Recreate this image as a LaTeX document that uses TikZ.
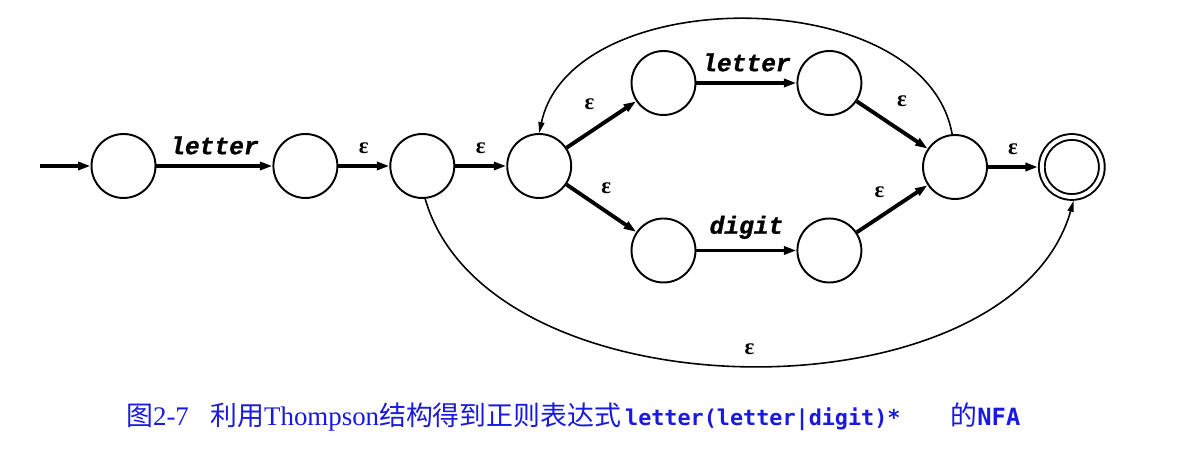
\documentclass[tikz,border=0pt]{standalone}
\usepackage{amsmath,bm}
\usepackage{fontspec}
\setmainfont{Liberation Serif}
\newfontfamily\cjk{Noto Sans CJK SC}
\newfontfamily\lblfont{Liberation Mono}[FakeBold=1.2]
\newfontfamily\codefont{DejaVu Sans Mono}
\usepackage{tikz}
\usetikzlibrary{arrows.meta,positioning}
\definecolor{capblue}{RGB}{25,25,225}
\newcommand{\eps}{\textbf{ε}}

\begin{document}
\begin{tikzpicture}[x=0.02cm,y=0.02cm,>={Triangle[length=2.5mm,width=1.6mm]},
state/.style={draw,circle,line width=1.1pt,minimum size=1.28cm,inner sep=0pt},
final/.style={state,double,double distance=2.2pt,minimum size=1.2cm,outer sep=2.2pt},
arr/.style={->,line width=2.2pt},
thinarr/.style={-{Triangle[length=2.2mm,width=1.2mm]},line width=0.9pt},
lbl/.style={font=\lblfont\bfseries\itshape\fontsize{14}{14}\selectfont,inner sep=0pt},
epslbl/.style={font=\fontsize{13}{13}\selectfont,inner sep=0pt}]
\useasboundingbox (0,0) rectangle (1197,463);

\node[state] (q0) at (123.5,297) {};
\node[state,right=2.32cm of q0] (q1) {};
\node[state,right=1.02cm of q1] (q2) {};
\node[state,right=1.02cm of q2] (q3) {};
\node[state] (q4) at (663.5,380) {};
\node[state,right=2cm of q4] (q5) {};
\node[state] (q6) at (663.5,212.5) {};
\node[state,right=2cm of q6] (q7) {};
\node[state] (q8) at (955,296) {};
\node[final,right=1cm of q8] (q9) {};
\coordinate (init) at (40,297);

\draw[arr] (init) -- (q0);
\draw[arr] (q0) -- node[lbl,above=5.5pt] {letter} (q1);
\draw[arr] (q1) -- node[epslbl,above=6pt] {\eps} (q2);
\draw[arr] (q2) -- node[epslbl,above=6pt] {\eps} (q3);
\draw[arr] (q3) -- node[epslbl,above left=0.25cm and 0.1cm] {\eps} (q4);
\draw[arr] (q3) -- node[epslbl,above=0.25cm,xshift=0.1cm] {\eps} (q6);
\draw[arr] (q4) -- node[lbl,above=5.5pt] {letter} (q5);
\draw[arr] (q6) -- node[lbl,above=5.5pt] {digit} (q7);
\draw[arr] (q5) -- node[epslbl,above right=0.33cm and 0.06cm] {\eps} (q8);
\draw[arr] (q7) -- node[epslbl,above left=0.19cm and 0.12cm] {\eps} (q8);
\draw[arr] (q8) -- node[epslbl,above=6pt] {\eps} (q9);
% the two epsilon bypasses
\draw[thinarr] (q8.95) .. controls +(100:3.1cm) and +(78:3.1cm) .. (q3.90);
\draw[thinarr] (q2.-85) .. controls +(-74:4.6cm) and +(-106:4.6cm) .. node[epslbl,above=6pt] {\eps} (q9.-87);

\node[anchor=base west,text=capblue,font=\fontsize{15.3}{18}\selectfont] (cap) at (120,37)
 {{\cjk 图}2-7\hspace{0.8em}{\cjk 利用}Thompson{\cjk 结构得到正则表达式}\hspace{0.15em}{\codefont\bfseries\fontsize{12.4}{12}\selectfont letter(letter|digit)*}\hspace{1cm}{\cjk 的}{\codefont\bfseries\fontsize{13.5}{12}\selectfont NFA}};
\end{tikzpicture}
\end{document}
